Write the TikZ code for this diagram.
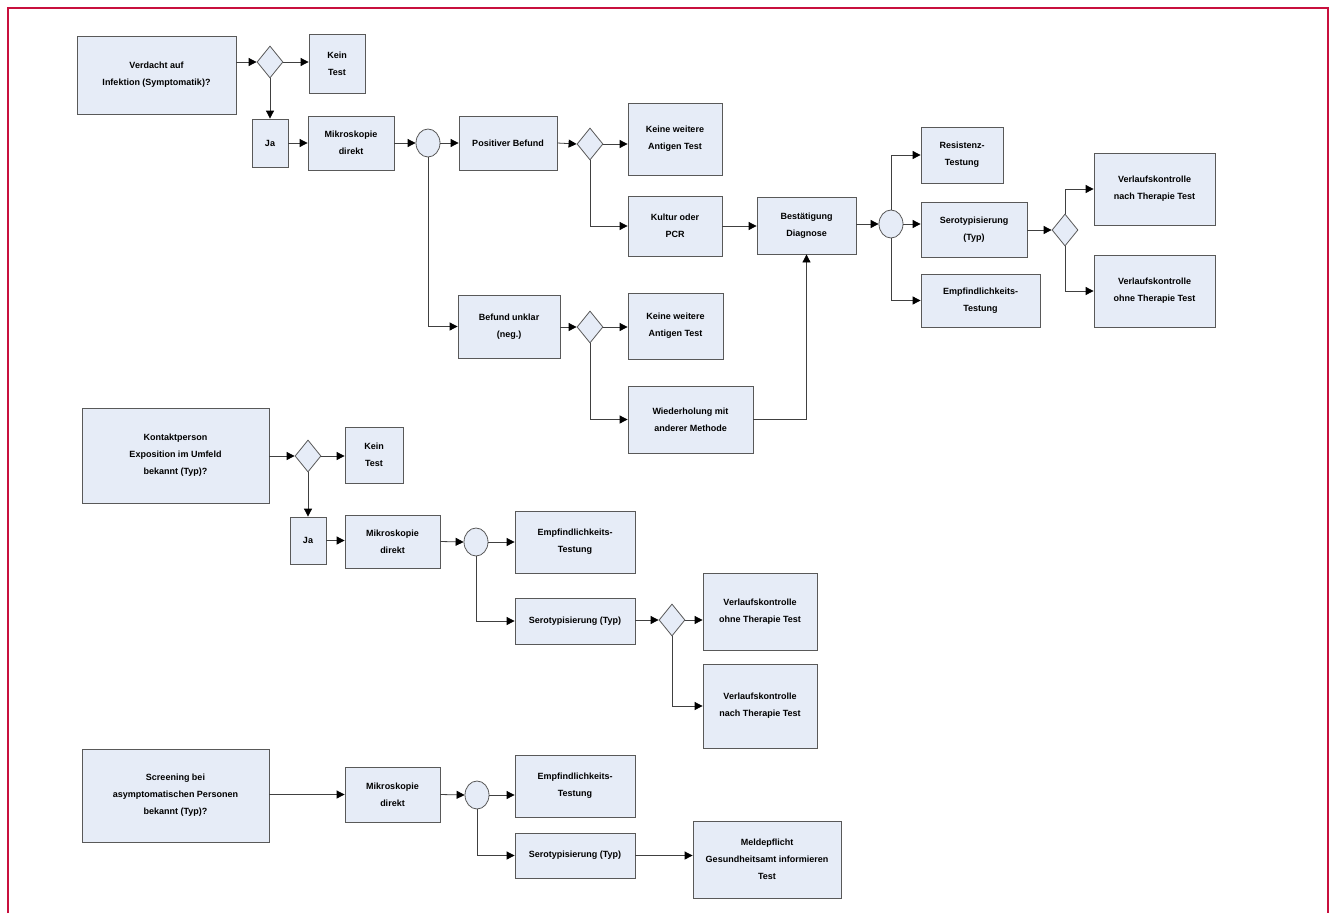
\documentclass[tikz,border=0pt]{standalone}
\usepackage{fontspec}
\setmainfont{Liberation Sans}
\usetikzlibrary{shapes.geometric,arrows.meta}
\definecolor{boxfill}{RGB}{230,236,247}
\definecolor{frame}{RGB}{200,16,62}
\tikzset{
  box/.style={draw=black!65, fill=boxfill, line width=0.8pt, inner sep=1pt, align=center,
    font=\bfseries\fontsize{9}{17}\selectfont},
  dia/.style={draw=black!65, fill=boxfill, line width=0.8pt, diamond, inner sep=0pt,
    minimum width=26pt, minimum height=32pt},
  junc/.style={draw=black!65, fill=boxfill, line width=0.8pt, ellipse, inner sep=0pt,
    minimum width=24pt, minimum height=28pt},
  conn/.style={draw=black!75, line width=0.8pt, -{Triangle[length=8pt,width=8pt,color=black]}},
  plain/.style={draw=black!75, line width=0.8pt}
}
\newcommand{\bx}[6]{\node[box, minimum width=#4pt, minimum height=#5pt] (#1) at (#2,#3) {#6};}
\begin{document}
\begin{tikzpicture}[x=1pt,y=-1pt]
\useasboundingbox (0,0) rectangle (1336,913);
\draw[frame, line width=2pt] (8,913) -- (8,8) -- (1328,8) -- (1328,913);

% ---------- Row 1 ----------
\bx{A1}{156.5}{75}{159}{78}{Verdacht auf\\Infektion (Symptomatik)?}
\node[dia] (D1) at (270,62) {};
\bx{B1}{337}{63.5}{56}{59}{Kein\\Test}
\bx{Y1}{270}{143}{36}{48}{Ja}
\bx{M1}{351}{143}{86}{54}{Mikroskopie\\direkt}
\node[junc] (C1) at (428,143) {};
\bx{P1}{508}{143}{98}{54}{Positiver Befund}
\node[dia] (D2) at (590,144) {};
\bx{R1}{675}{139}{94}{72}{Keine weitere\\Antigen Test}
\bx{R2}{675}{226}{94}{60}{Kultur oder\\PCR}
\bx{CV}{806.5}{225.5}{99}{57}{Bestätigung\\Diagnose}
\node[junc] (C2) at (891,224) {};
\bx{T1}{962}{155}{82}{56}{Resistenz-\\Testung}
\bx{T2}{974}{229.5}{106}{55}{Serotypisierung\\(Typ)}
\bx{T3}{980.5}{300.5}{119}{53}{Empfindlichkeits-\\Testung}
\node[dia] (D3) at (1065,230) {};
\bx{U1}{1154.5}{189}{121}{72}{Verlaufskontrolle\\nach Therapie Test}
\bx{U2}{1154.5}{291}{121}{72}{Verlaufskontrolle\\ohne Therapie Test}
\bx{Q1}{509}{326.5}{102}{63}{Befund unklar\\(neg.)}
\node[dia] (D4) at (590,327) {};
\bx{R3}{675.5}{326}{95}{66}{Keine weitere\\Antigen Test}
\bx{R4}{690.5}{419.5}{125}{67}{Wiederholung mit\\anderer Methode}

\draw[conn] (A1.east |- D1.west) -- (D1.west);
\draw[conn] (D1.east) -- (D1.east -| B1.west);
\draw[conn] (D1.south) -- (Y1.north);
\draw[conn] (Y1.east) -- (Y1.east -| M1.west);
\draw[conn] (M1.east) -- (C1.west);
\draw[conn] (C1.east) -- (P1.west);
\draw[conn] (P1.east) -- (D2.west);
\draw[conn] (D2.east) -- (D2.east -| R1.west);
\draw[conn] (D2.south) |- (R2.west);
\draw[conn] (R2.east) -- (R2.east -| CV.west);
\draw[conn] (C1.south) |- (Q1.west);
\draw[conn] (Q1.east |- D4.west) -- (D4.west);
\draw[conn] (D4.east) -- (D4.east -| R3.west);
\draw[conn] (D4.south) |- (R4.west);
\draw[conn] (R4.east) -| (CV.south);
\draw[conn] (CV.east |- C2.west) -- (C2.west);
\draw[conn] (C2.north) |- (T1.west);
\draw[conn] (C2.east) -- (C2.east -| T2.west);
\draw[conn] (C2.south) |- (T3.west);
\draw[conn] (T2.east |- D3.west) -- (D3.west);
\draw[conn] (D3.north) |- (U1.west);
\draw[conn] (D3.south) |- (U2.west);

% ---------- Row 2 ----------
\bx{A2}{175.5}{455.5}{187}{95}{Kontaktperson\\Exposition im Umfeld\\bekannt (Typ)?}
\node[dia] (D5) at (308,456) {};
\bx{B2}{374}{455}{58}{56}{Kein\\Test}
\bx{Y2}{308}{540.5}{36}{47}{Ja}
\bx{M2}{392.5}{541.5}{95}{53}{Mikroskopie\\direkt}
\node[junc] (C3) at (476,542) {};
\bx{T4}{575}{542}{120}{62}{Empfindlichkeits-\\Testung}
\bx{T5}{575}{621}{120}{46}{Serotypisierung (Typ)}
\node[dia] (D6) at (672,620) {};
\bx{U3}{760}{611.5}{114}{77}{Verlaufskontrolle\\ohne Therapie Test}
\bx{U4}{760}{706}{114}{84}{Verlaufskontrolle\\nach Therapie Test}

\draw[conn] (A2.east |- D5.west) -- (D5.west);
\draw[conn] (D5.east) -- (D5.east -| B2.west);
\draw[conn] (D5.south) -- (Y2.north);
\draw[conn] (Y2.east) -- (Y2.east -| M2.west);
\draw[conn] (M2.east) -- (C3.west);
\draw[conn] (C3.east) -- (T4.west);
\draw[conn] (C3.south) |- (T5.west);
\draw[conn] (T5.east |- D6.west) -- (D6.west);
\draw[conn] (D6.east) -- (D6.east -| U3.west);
\draw[conn] (D6.south) |- (U4.west);

% ---------- Row 3 ----------
\bx{A3}{175.5}{795.5}{187}{93}{Screening bei\\asymptomatischen Personen\\bekannt (Typ)?}
\bx{M3}{392.5}{794.5}{95}{55}{Mikroskopie\\direkt}
\node[junc] (C4) at (477,795) {};
\bx{T6}{575}{786}{120}{62}{Empfindlichkeits-\\Testung}
\bx{T7}{575}{855.5}{120}{45}{Serotypisierung (Typ)}
\bx{V}{767}{859.5}{148}{77}{Meldepflicht\\Gesundheitsamt informieren\\Test}

\draw[conn] (A3.east |- M3.west) -- (M3.west);
\draw[conn] (M3.east) -- (C4.west);
\draw[conn] (C4.east) -- (C4.east -| T6.west);
\draw[conn] (C4.south) |- (T7.west);
\draw[conn] (T7.east) -- (T7.east -| V.west);
\end{tikzpicture}
\end{document}
